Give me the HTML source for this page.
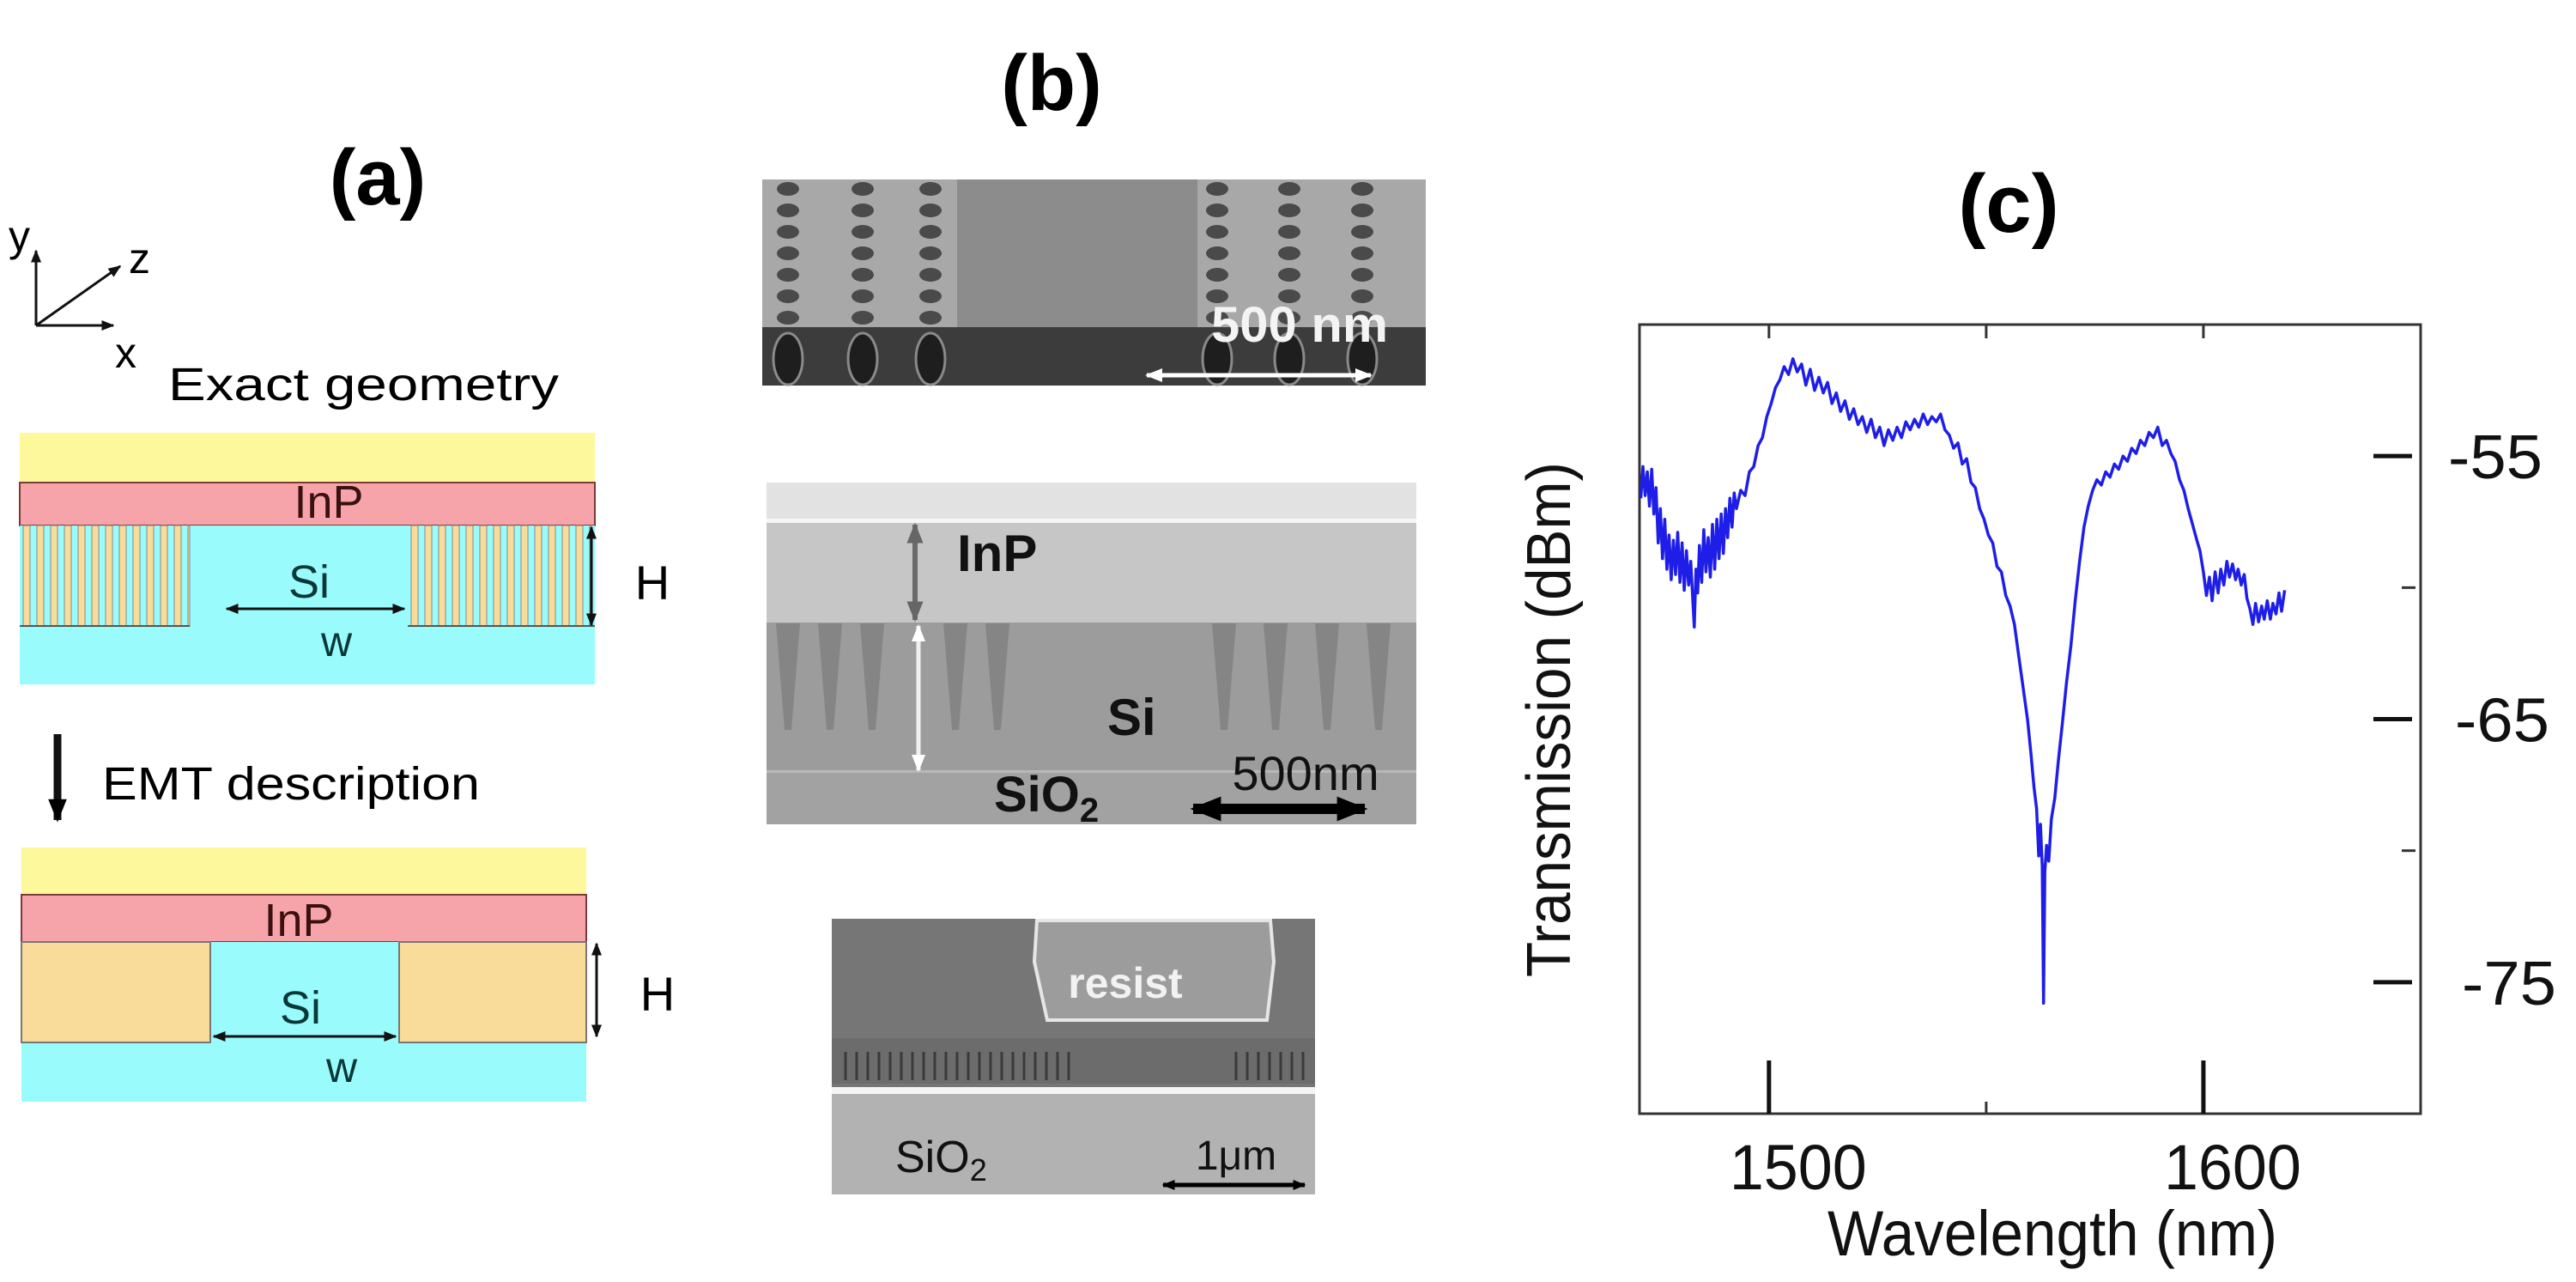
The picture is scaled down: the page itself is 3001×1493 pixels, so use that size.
<!DOCTYPE html>
<html><head><meta charset="utf-8"><style>
html,body{margin:0;padding:0;background:#fff}
svg{display:block}
text{font-family:"Liberation Sans",Arial,sans-serif}
</style></head><body>
<svg id="fig" width="3001" height="1493" viewBox="0 0 3001 1493" xmlns="http://www.w3.org/2000/svg">
<defs>
<marker id="ah" viewBox="0 0 10 10" refX="9" refY="5" markerWidth="5" markerHeight="5" orient="auto-start-reverse"><path d="M0,1 L10,5 L0,9 z" fill="#111"/></marker>
<marker id="ahw" viewBox="0 0 10 10" refX="9" refY="5" markerWidth="4" markerHeight="4" orient="auto-start-reverse"><path d="M0,1 L10,5 L0,9 z" fill="#fff"/></marker>
<marker id="ahg" viewBox="0 0 10 10" refX="9" refY="5" markerWidth="4" markerHeight="4" orient="auto-start-reverse"><path d="M0,1 L10,5 L0,9 z" fill="#666"/></marker>
<marker id="ahb" viewBox="0 0 10 10" refX="9" refY="5" markerWidth="3" markerHeight="3" orient="auto-start-reverse"><path d="M0,1 L10,5 L0,9 z" fill="#000"/></marker>
</defs>

<!-- ===== Panel (a) ===== -->
<g>
<text x="440" y="238" font-size="92" font-weight="bold" text-anchor="middle">(a)</text>
<g stroke="#111" stroke-width="3" fill="none">
<line x1="42" y1="379" x2="42" y2="292" marker-end="url(#ah)"/>
<line x1="42" y1="379" x2="132" y2="379" marker-end="url(#ah)"/>
<line x1="42" y1="379" x2="140" y2="310" marker-end="url(#ah)"/>
</g>
<text x="10" y="292" font-size="50">y</text>
<text x="150" y="318" font-size="50">z</text>
<text x="134" y="428" font-size="50">x</text>
<text x="196" y="466" font-size="54" textLength="455" lengthAdjust="spacingAndGlyphs">Exact geometry</text>

<g>
<rect x="23" y="504" width="670" height="58" fill="#fdf89c"/>
<rect x="23" y="562" width="670" height="50" fill="#f6a4aa" stroke="#7a3a3a" stroke-width="2"/>
<rect x="23" y="612" width="670" height="185" fill="#99fbfb"/>
<g id="stripesL"></g>
<g id="stripesR"></g>
<line x1="23" y1="729" x2="221" y2="729" stroke="#555" stroke-width="2"/>
<line x1="475" y1="729" x2="693" y2="729" stroke="#555" stroke-width="2"/>
</g>
<text x="383" y="603" font-size="54" text-anchor="middle" fill="#3a1010">InP</text>
<text x="360" y="696" font-size="54" text-anchor="middle" fill="#0a3838">Si</text>
<line x1="264" y1="709" x2="471" y2="709" stroke="#111" stroke-width="3" marker-start="url(#ah)" marker-end="url(#ah)"/>
<text x="392" y="764" font-size="50" text-anchor="middle" fill="#0a3838">w</text>
<line x1="689" y1="614" x2="689" y2="728" stroke="#111" stroke-width="3" marker-start="url(#ah)" marker-end="url(#ah)"/>
<text x="760" y="698" font-size="56" text-anchor="middle">H</text>

<line x1="67" y1="855" x2="67" y2="955" stroke="#111" stroke-width="9" marker-end="url(#ahb)"/>
<text x="119" y="931" font-size="54" textLength="440" lengthAdjust="spacingAndGlyphs">EMT description</text>

<g>
<rect x="25" y="987" width="658" height="55" fill="#fdf89c"/>
<rect x="25" y="1042" width="658" height="55" fill="#f6a4aa" stroke="#7a3a3a" stroke-width="2"/>
<rect x="25" y="1097" width="658" height="186" fill="#99fbfb"/>
<rect x="25" y="1097" width="220" height="117" fill="#fadc9a" stroke="#777" stroke-width="2"/>
<rect x="465" y="1097" width="218" height="117" fill="#fadc9a" stroke="#777" stroke-width="2"/>
</g>
<text x="348" y="1090" font-size="54" text-anchor="middle" fill="#3a1010">InP</text>
<text x="350" y="1192" font-size="54" text-anchor="middle" fill="#0a3838">Si</text>
<line x1="249" y1="1207" x2="461" y2="1207" stroke="#111" stroke-width="3" marker-start="url(#ah)" marker-end="url(#ah)"/>
<text x="398" y="1260" font-size="50" text-anchor="middle" fill="#0a3838">w</text>
<line x1="695" y1="1099" x2="695" y2="1207" stroke="#111" stroke-width="3" marker-start="url(#ah)" marker-end="url(#ah)"/>
<text x="766" y="1177" font-size="56" text-anchor="middle">H</text>
</g>

<!-- ===== Panel (b) ===== -->
<g>
<text x="1225" y="128" font-size="92" font-weight="bold" text-anchor="middle">(b)</text>

<g>
<rect x="888" y="209" width="773" height="240" fill="#a8a8a8"/>
<rect x="1115" y="209" width="280" height="172" fill="#8c8c8c"/>
<rect x="888" y="381" width="773" height="68" fill="#3c3c3c"/>
<g id="holes"></g>
<text x="1514" y="398" font-size="58" font-weight="bold" text-anchor="middle" fill="#f4f4f4" textLength="206" lengthAdjust="spacingAndGlyphs">500 nm</text>
<line x1="1336" y1="437" x2="1597" y2="437" stroke="#fff" stroke-width="5" marker-start="url(#ahw)" marker-end="url(#ahw)"/>
</g>

<g>
<rect x="893" y="562" width="757" height="398" fill="#a2a2a2"/>
<rect x="893" y="562" width="757" height="45" fill="#e2e2e2"/>
<rect x="893" y="604" width="757" height="5" fill="#f6f6f6"/>
<rect x="893" y="609" width="757" height="116" fill="#c6c6c6"/>
<rect x="893" y="725" width="757" height="174" fill="#9c9c9c"/>
<rect x="893" y="897" width="757" height="3" fill="#b8b8b8"/>
<g id="cones"></g>
<line x1="1066" y1="611" x2="1066" y2="722" stroke="#6a6a6a" stroke-width="6" marker-start="url(#ahg)" marker-end="url(#ahg)"/>
<line x1="1070" y1="729" x2="1070" y2="897" stroke="#f0f0f0" stroke-width="5" marker-start="url(#ahw)" marker-end="url(#ahw)"/>
<text x="1115" y="665" font-size="60" font-weight="bold" fill="#111">InP</text>
<text x="1290" y="856" font-size="60" font-weight="bold" fill="#111">Si</text>
<text x="1158" y="945" font-size="58" font-weight="bold" fill="#111">SiO<tspan font-size="40" dy="12">2</tspan></text>
<text x="1521" y="920" font-size="56" text-anchor="middle" fill="#111">500nm</text>
<line x1="1390" y1="942" x2="1590" y2="942" stroke="#000" stroke-width="12" marker-start="url(#ahb)" marker-end="url(#ahb)"/>
</g>

<g>
<rect x="969" y="1070" width="563" height="321" fill="#b2b2b2"/>
<rect x="969" y="1070" width="563" height="198" fill="#767676"/>
<rect x="969" y="1209" width="563" height="53" fill="#6c6c6c"/>
<g id="grating"></g>
<rect x="969" y="1266" width="563" height="8" fill="#f4f4f4"/>
<path d="M1208,1072 L1480,1072 L1484,1120 L1476,1188 L1220,1188 L1205,1120 z" fill="#9c9c9c" stroke="#e6e6e6" stroke-width="4"/>
<text x="1311" y="1162" font-size="50" font-weight="bold" text-anchor="middle" fill="#f2f2f2">resist</text>
<text x="1043" y="1365" font-size="52" fill="#111">SiO<tspan font-size="36" dy="10">2</tspan></text>
<text x="1440" y="1362" font-size="48" text-anchor="middle" fill="#111">1μm</text>
<line x1="1355" y1="1380" x2="1520" y2="1380" stroke="#000" stroke-width="5" marker-start="url(#ahb)" marker-end="url(#ahb)"/>
</g>
</g>

<!-- ===== Panel (c) ===== -->
<g>
<text x="2340" y="270" font-size="96" font-weight="bold" text-anchor="middle">(c)</text>
<g id="chart"></g>
</g>
</svg>

<script>
// ---- chart data ----
const wavelengths = [1470.5,1471,1471.5,1472,1472.5,1473,1473.5,1474,1474.5,1475,1475.5,1476,1476.5,1477,1477.5,1478,1478.5,1479,1479.5,1480,1480.5,1481,1481.5,1482,1482.5,1482.8,1483.2,1483.6,1484,1484.5,1485,1485.5,1486,1486.5,1487,1487.5,1488,1488.5,1489,1489.5,1490,1490.5,1491,1491.5,1492,1492.5,1493.5,1494.5,1495.5,1496.5,1497.5,1498.5,1499.5,1500.5,1501.5,1502.5,1503.5,1504.5,1505.5,1506.5,1507.5,1508.5,1509.5,1510.5,1511.5,1512.5,1513.5,1514.5,1515.5,1516.5,1517.5,1518.5,1519.5,1520.5,1521.5,1522.5,1523.5,1524.5,1525.5,1526.5,1527.5,1528.5,1529.5,1530.5,1531.5,1532.5,1533.5,1534.5,1535.5,1536.5,1537.5,1538.5,1539.5,1540.5,1541.5,1542.5,1543.5,1544.5,1545.5,1546.5,1547.5,1548.5,1549.5,1550.5,1551.5,1552.5,1553.5,1554.5,1555.5,1556.5,1557.5,1558.5,1559.5,1560.3,1561,1561.6,1562.1,1562.5,1562.9,1563.2,1563.5,1563.9,1564.4,1565,1565.8,1566.6,1567.5,1568.5,1569.5,1570.5,1571.5,1572.5,1573.5,1574.5,1575.5,1576.5,1577.5,1578.5,1579.5,1580.5,1581.5,1582.5,1583.5,1584.5,1585.5,1586.5,1587.5,1588.5,1589.5,1590.5,1591.5,1592.5,1593.5,1594.5,1595.5,1596.5,1597.5,1598.5,1599.2,1600,1600.7,1601.4,1602,1602.7,1603.4,1604,1604.7,1605.4,1606,1606.7,1607.4,1608,1608.7,1609.4,1610,1610.7,1611.4,1612,1612.7,1613.4,1614,1614.7,1615.4,1616,1616.7,1617.4,1618,1618.7,1619.3];
const transmission = [-56.6,-55.4,-56.5,-55.6,-56.9,-55.5,-57.2,-56.2,-58.3,-57.0,-58.9,-57.4,-59.3,-58.0,-59.7,-58.2,-59.5,-57.9,-59.8,-58.3,-60.1,-58.6,-59.9,-59.0,-60.6,-61.5,-59.3,-60.2,-58.4,-59.8,-57.8,-59.4,-58.1,-59.6,-57.6,-59.3,-57.4,-58.9,-57.2,-58.7,-57.0,-58.1,-56.6,-57.7,-56.4,-57.0,-56.3,-56.5,-55.6,-55.4,-54.6,-54.3,-53.5,-53.0,-52.4,-52.1,-51.6,-51.9,-51.3,-51.8,-51.5,-52.3,-51.7,-52.5,-52.0,-52.6,-52.2,-53.0,-52.6,-53.3,-52.9,-53.6,-53.2,-53.8,-53.5,-54.1,-53.6,-54.3,-53.9,-54.6,-54.0,-54.4,-53.9,-54.3,-53.7,-54.0,-53.6,-53.9,-53.4,-53.8,-53.5,-53.7,-53.4,-54.0,-54.2,-54.7,-54.5,-55.3,-55.1,-56.0,-56.2,-57.0,-57.4,-58.0,-58.3,-59.2,-59.4,-60.3,-60.7,-61.4,-62.6,-63.8,-65.0,-66.3,-67.6,-68.4,-70.2,-69.0,-70.6,-75.8,-70.8,-69.8,-70.4,-68.8,-68.0,-66.6,-65.2,-63.6,-62.2,-60.5,-59.0,-57.7,-56.9,-56.3,-55.9,-56.1,-55.6,-55.8,-55.3,-55.5,-55.0,-55.2,-54.7,-54.9,-54.4,-54.6,-54.1,-54.3,-53.9,-54.6,-54.4,-54.9,-55.2,-55.9,-56.3,-57.0,-57.6,-58.2,-58.6,-59.4,-60.3,-59.6,-60.5,-59.4,-60.2,-59.3,-59.9,-59.0,-59.6,-59.1,-59.7,-59.3,-59.9,-59.5,-60.4,-60.8,-61.4,-60.6,-61.3,-60.7,-61.2,-60.5,-61.2,-60.6,-61.0,-60.2,-60.9,-60.1];
const xTickValues = [1500, 1600];
const xMinorTicks = [1550];
const xTickLabels = ["1500", "1600"];
const yTickValues = [-55, -65, -75];
const yMinorTicks = [-60, -70];
const yTickLabels = ["-55", "-65", "-75"];
const xDomain = [1470.2, 1650];
const yDomain = [-80, -50];

const NS = "http://www.w3.org/2000/svg";
const L = 1910, R = 2820, T = 378, B = 1297;
function xs(v){ return L + (v - xDomain[0]) / (xDomain[1] - xDomain[0]) * (R - L); }
function ys(v){ return B - (v - yDomain[0]) / (yDomain[1] - yDomain[0]) * (B - T); }
function mk(tag, attrs, parent){ const e = document.createElementNS(NS, tag); for (const k in attrs) e.setAttribute(k, attrs[k]); parent.appendChild(e); return e; }

const chart = document.getElementById('chart');
const frame = mk('rect', {x:L, y:T, width:R-L, height:B-T, fill:'none', stroke:'#333', 'stroke-width':3}, chart);



xTickValues.forEach((v, i) => {
  const t = mk('line', {x1:xs(v), x2:xs(v), y1:B, y2:B-62, stroke:'#111', 'stroke-width':5}, chart);
  
  
  const tt = mk('line', {x1:xs(v), x2:xs(v), y1:T, y2:T+16, stroke:'#333', 'stroke-width':3}, chart);
  
  
  const lb = mk('text', {x:xs(v)+34, y:1385, 'font-size':74, 'text-anchor':'middle', fill:'#111', textLength:160, lengthAdjust:'spacingAndGlyphs'}, chart);
  lb.textContent = xTickLabels[i];
  
  
});
xMinorTicks.forEach(v => {
  const t = mk('line', {x1:xs(v), x2:xs(v), y1:B, y2:B-14, stroke:'#333', 'stroke-width':3}, chart);
  
  
  const tt = mk('line', {x1:xs(v), x2:xs(v), y1:T, y2:T+16, stroke:'#333', 'stroke-width':3}, chart);
  
  
});
yTickValues.forEach((v, i) => {
  const t = mk('line', {x1:R-55, x2:R-10, y1:ys(v), y2:ys(v), stroke:'#111', 'stroke-width':5}, chart);
  
  
  const lb = mk('text', {x:2852 + i*8, y:ys(v)+26, 'font-size':72, fill:'#111', textLength:110, lengthAdjust:'spacingAndGlyphs'}, chart);
  lb.textContent = yTickLabels[i];
  
  
});
yMinorTicks.forEach(v => {
  const t = mk('line', {x1:R-22, x2:R-6, y1:ys(v), y2:ys(v), stroke:'#333', 'stroke-width':3}, chart);
  
  
});

const xt = mk('text', {x:2391, y:1462, 'font-size':74, 'text-anchor':'middle', fill:'#111', textLength:524, lengthAdjust:'spacingAndGlyphs'}, chart);
xt.textContent = 'Wavelength (nm)';


const yt = mk('text', {x:0, y:0, 'font-size':72, 'text-anchor':'middle', fill:'#111', textLength:600, lengthAdjust:'spacingAndGlyphs', transform:'translate(1829,838) rotate(-90)'}, chart);
yt.textContent = 'Transmission (dBm)';



const pts = wavelengths.map((w, i) => xs(w).toFixed(1) + ',' + ys(transmission[i]).toFixed(1)).join(' ');
const line = mk('polyline', {points:pts, fill:'none', stroke:'#1e1ee8', 'stroke-width':3.5, 'stroke-linejoin':'round'}, chart);



// ---- decorative pattern elements ----
function stripes(g, x0, x1){
  for (let x = x0; x < x1; x += 16){
    const r = mk('rect', {x:x, y:612, width:Math.min(8, x1-x), height:117, fill:'#fadc9a', stroke:'#888', 'stroke-width':1}, g);
    
    
  }
}
stripes(document.getElementById('stripesL'), 27, 221);
stripes(document.getElementById('stripesR'), 479, 689);

const holes = document.getElementById('holes');
[918, 1005, 1084, 1418, 1502, 1587].forEach(cx => {
  for (let cy = 220; cy < 375; cy += 25){
    const e = mk('ellipse', {cx:cx, cy:cy, rx:13, ry:8, fill:'#4a4a4a'}, holes);
    
    
  }
  const e = mk('ellipse', {cx:cx, cy:418, rx:17, ry:30, fill:'#1e1e1e', stroke:'#8a8a8a', 'stroke-width':3}, holes);
  
  
});

const cones = document.getElementById('cones');
[918, 967, 1016, 1113, 1162, 1426, 1486, 1546, 1606].forEach(cx => {
  const p = mk('path', {d:`M${cx-14},726 L${cx+14},726 L${cx+4},850 L${cx-4},850 z`, fill:'#858585'}, cones);
  
  
});

const grating = document.getElementById('grating');
for (let x = 985; x < 1530; x += 13){
  if (x > 1245 && x < 1440) continue;
  const l = mk('line', {x1:x, x2:x, y1:1225, y2:1258, stroke:'#3a3a3a', 'stroke-width':3}, grating);
  
  
}
</script>
</body></html>
